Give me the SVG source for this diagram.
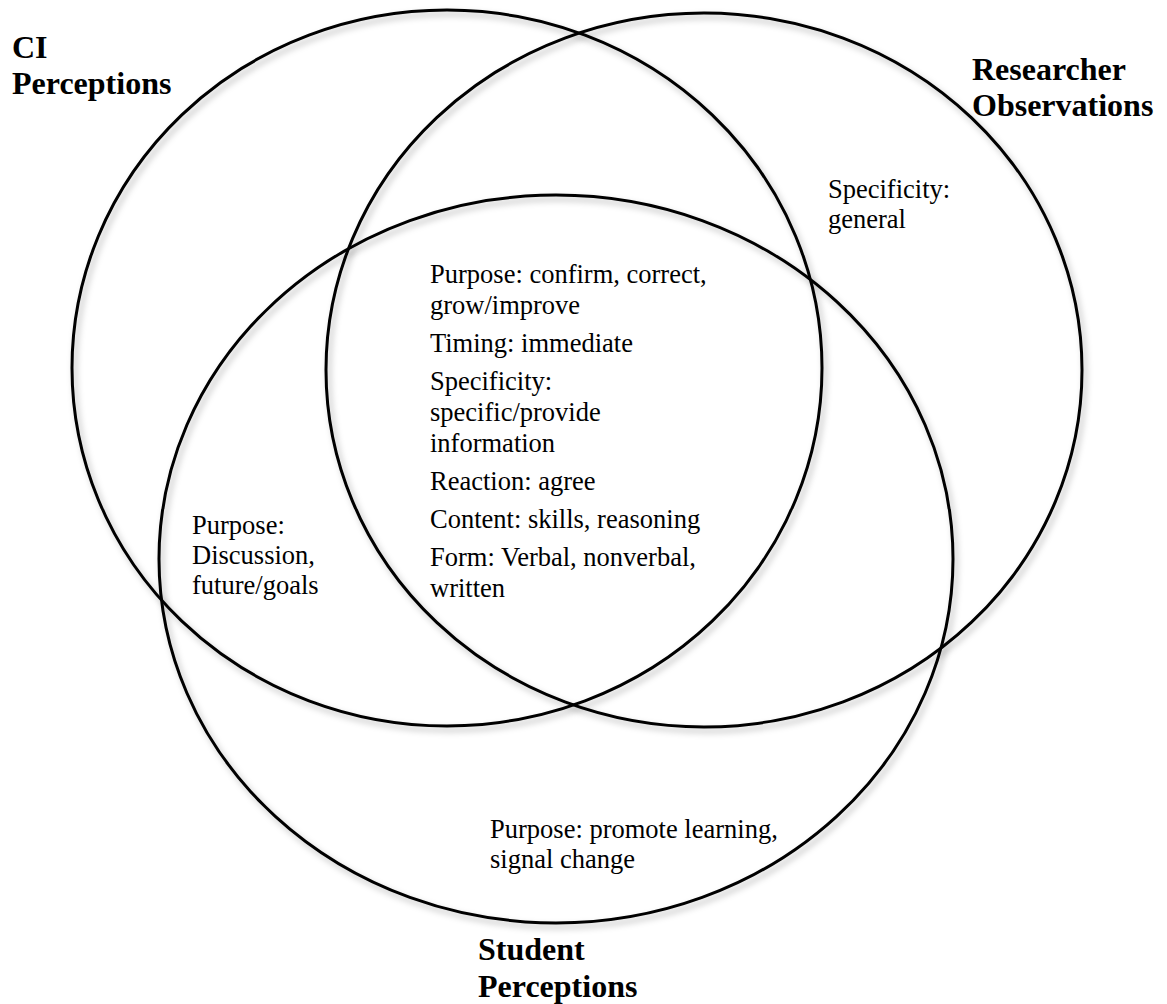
<svg xmlns="http://www.w3.org/2000/svg" width="1167" height="1004" viewBox="0 0 1167 1004">
<defs>
<filter id="sh" x="-10%" y="-10%" width="120%" height="120%">
<feDropShadow dx="3" dy="4" stdDeviation="3" flood-color="#000" flood-opacity="0.28"/>
</filter>
<style>
.c{fill:none;stroke:#000;stroke-width:3;filter:url(#sh)}
.t{font-family:"Liberation Serif","Times New Roman",serif;font-size:26.5px;fill:#000}
.h{font-family:"Liberation Serif","Times New Roman",serif;font-size:32px;font-weight:bold;fill:#000}
</style>
</defs>
<rect width="1167" height="1004" fill="#fff"/>
<g id="ci-perceptions">
<ellipse class="c" cx="447" cy="368" rx="375" ry="358"/>
<text class="h" x="12" y="58">CI</text>
<text class="h" x="12" y="94">Perceptions</text>
</g>
<g id="researcher-observations">
<ellipse class="c" cx="704" cy="370" rx="378" ry="357"/>
<text class="h" x="972" y="80">Researcher</text>
<text class="h" x="972" y="116">Observations</text>
<text class="t" x="828" y="198">Specificity:</text>
<text class="t" x="828" y="228">general</text>
</g>
<g id="student-perceptions">
<ellipse class="c" cx="556" cy="559" rx="397" ry="364"/>
<text class="h" x="478" y="960">Student</text>
<text class="h" x="478" y="997">Perceptions</text>
<text class="t" x="490" y="838">Purpose: promote learning,</text>
<text class="t" x="490" y="868">signal change</text>
</g>
<g id="ci-student-overlap">
<text class="t" x="192" y="534">Purpose:</text>
<text class="t" x="192" y="564">Discussion,</text>
<text class="t" x="192" y="594">future/goals</text>
</g>
<g id="all-overlap">
<text class="t" x="430" y="283">Purpose: confirm, correct,</text>
<text class="t" x="430" y="314">grow/improve</text>
<text class="t" x="430" y="352">Timing: immediate</text>
<text class="t" x="430" y="390">Specificity:</text>
<text class="t" x="430" y="421">specific/provide</text>
<text class="t" x="430" y="452">information</text>
<text class="t" x="430" y="490">Reaction: agree</text>
<text class="t" x="430" y="528">Content: skills, reasoning</text>
<text class="t" x="430" y="566">Form: Verbal, nonverbal,</text>
<text class="t" x="430" y="597">written</text>
</g>
</svg>
